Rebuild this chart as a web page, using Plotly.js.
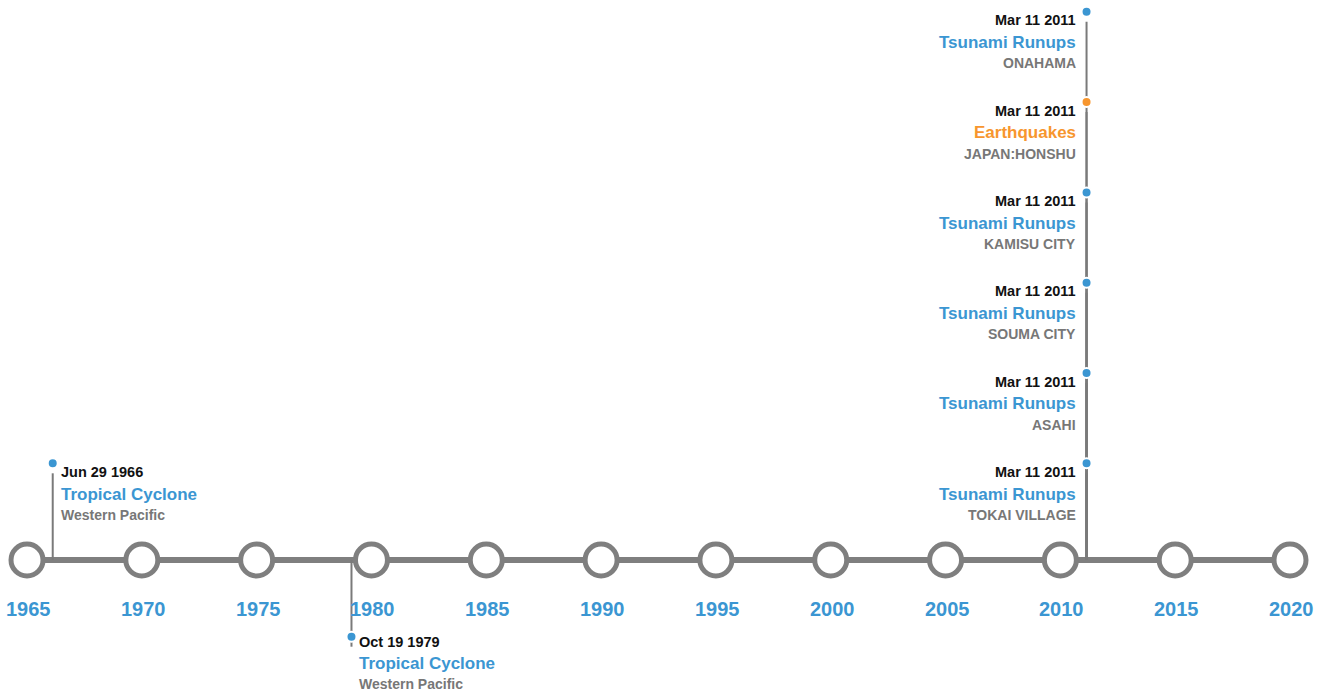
<!DOCTYPE html>
<html>
<head>
<meta charset="utf-8">
<script src="https://cdn.plot.ly/plotly-3.0.1.min.js"></script>
<style>
  html, body { margin: 0; padding: 0; background: #ffffff; }
  #chart { width: 1325px; height: 693px; }
</style>
</head>
<body>
<div id="chart"></div>
<script>
// ---- data ----
const tickYears = [1965, 1970, 1975, 1980, 1985, 1990, 1995, 2000, 2005, 2010, 2015, 2020];
const eventDates = ["Jun 29 1966", "Oct 19 1979", "Mar 11 2011", "Mar 11 2011", "Mar 11 2011", "Mar 11 2011", "Mar 11 2011", "Mar 11 2011"];
const eventTypes = ["Tropical Cyclone", "Tropical Cyclone", "Tsunami Runups", "Tsunami Runups", "Tsunami Runups", "Tsunami Runups", "Earthquakes", "Tsunami Runups"];
const eventPlaces = ["Western Pacific", "Western Pacific", "TOKAI VILLAGE", "ASAHI", "SOUMA CITY", "KAMISU CITY", "JAPAN:HONSHU", "ONAHAMA"];
const eventYearPos = [1966.12, 1979.13, 2011.14, 2011.14, 2011.14, 2011.14, 2011.14, 2011.14];
const eventLevels = [1, -1, 1, 2, 3, 4, 5, 6];
const eventTextSide = ["right", "right", "left", "left", "left", "left", "left", "left"];

// ---- styles ----
const BLUE = "#3b96d2";
const ORANGE = "#f7962e";
const GREY = "#7f7f7f";
const FONT = "'Liberation Sans', Arial, Helvetica, sans-serif";
const typeColor = t => (t === "Earthquakes" ? ORANGE : BLUE);

// vertical layout (in pixel-like y units; y axis reversed 0..693)
const LINE_Y = 560;
const LABEL_Y = 608;
const levelY = lv => (lv > 0 ? 463.3 - 90.3 * (lv - 1) : 636.7);

const dotY = eventLevels.map(levelY);

// stems
const stemX = [], stemY = [];
eventYearPos.forEach((x, i) => {
  stemX.push(x, x, null);
  stemY.push(LINE_Y, dotY[i] + 10, null);
});

const traces = [
  { // main timeline bar
    x: [tickYears[0], tickYears[tickYears.length - 1]], y: [LINE_Y, LINE_Y],
    mode: "lines", line: { color: GREY, width: 6 }, hoverinfo: "skip"
  },
  { // stems
    x: stemX, y: stemY, mode: "lines",
    line: { color: "#7a7a7a", width: 2 }, hoverinfo: "skip"
  },
  { // year circles
    x: tickYears, y: tickYears.map(() => LINE_Y), mode: "markers",
    marker: { size: 32, color: "#ffffff", line: { color: GREY, width: 5 } },
    hoverinfo: "skip"
  },
  { // event dots
    x: eventYearPos, y: dotY, mode: "markers",
    marker: { size: 10, color: eventTypes.map(typeColor), line: { color: "#ffffff", width: 2 } },
    hoverinfo: "skip"
  }
];

const annotations = [];
// year labels
tickYears.forEach(yr => {
  annotations.push({
    x: yr, y: LABEL_Y, xref: "x", yref: "y", showarrow: false,
    xanchor: "center", yanchor: "middle", xshift: 1.5, yshift: -0.5,
    text: "<b>" + yr + "</b>",
    font: { family: FONT, size: 20, color: BLUE }
  });
});
// event labels
eventYearPos.forEach((x, i) => {
  const side = eventTextSide[i];
  const below = eventLevels[i] < 0;
  const xshift = side === "right" ? 6 : -9;
  const offs = below ? [5, 26.5, 47.5] : [8.5, 30.7, 51.5];
  const base = { x: x, y: dotY[i], xref: "x", yref: "y", showarrow: false,
    xanchor: side === "right" ? "left" : "right", yanchor: "middle", xshift: xshift };
  annotations.push(Object.assign({}, base, {
    text: "<b>" + eventDates[i] + "</b>", yshift: -offs[0],
    font: { family: FONT, size: 14.5, color: "#111111" }
  }));
  annotations.push(Object.assign({}, base, {
    text: "<b>" + eventTypes[i] + "</b>", yshift: -offs[1],
    font: { family: FONT, size: 17, color: typeColor(eventTypes[i]) }
  }));
  annotations.push(Object.assign({}, base, {
    text: "<b>" + eventPlaces[i] + "</b>", yshift: -offs[2],
    font: { family: FONT, size: 14, color: "#777777" }
  }));
});

const layout = {
  width: 1325, height: 693,
  margin: { l: 0, r: 0, t: 0, b: 0, pad: 0 },
  paper_bgcolor: "#ffffff", plot_bgcolor: "#ffffff",
  showlegend: false,
  xaxis: { range: [1963.824, 2021.524], visible: false, fixedrange: true },
  yaxis: { range: [693, 0], visible: false, fixedrange: true },
  annotations: annotations
};

Plotly.newPlot("chart", traces, layout, { displayModeBar: false, staticPlot: true });
</script>
</body>
</html>
